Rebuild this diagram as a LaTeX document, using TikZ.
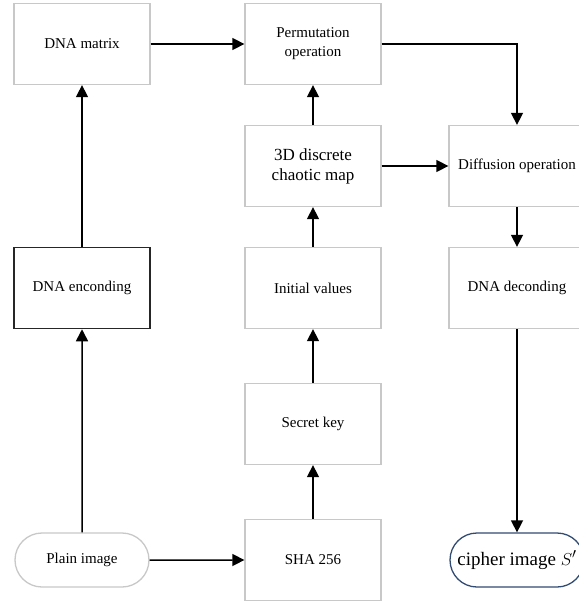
\documentclass[tikz,border=0pt]{standalone}
\usepackage{fontspec}
\setmainfont{Liberation Serif}
\usetikzlibrary{arrows.meta,shapes.misc}
\definecolor{boxgray}{RGB}{200,200,200}
\definecolor{pillblue}{RGB}{50,75,115}
\begin{document}
\begin{tikzpicture}[x=1pt,y=-1pt,
  box/.style={draw=boxgray,line width=1.3pt,minimum width=136pt,minimum height=81pt,align=center,font=\fontsize{15}{19}\selectfont,inner sep=2pt},
  darkbox/.style={box,draw=black!85,line width=1.5pt},
  pill/.style={rounded rectangle,draw=boxgray,line width=1.3pt,minimum width=136pt,minimum height=54pt,font=\fontsize{15}{19}\selectfont,inner xsep=1pt},
  bluepill/.style={pill,draw=pillblue,font=\fontsize{19}{22}\selectfont},
  arr/.style={line width=1.5pt,-{Triangle[length=12pt,width=12pt]}}]
\useasboundingbox (0,0) rectangle (578,604);
\fill[white] (0,0) rectangle (578,604);
\node[box] (dnamatrix) at (82,44) {DNA matrix};
\node[darkbox] (dnaenc) at (82,288) {DNA enconding};
\node[pill] (plain) at (82,560) {Plain image};
\node[box] (perm) at (313,44) {Permutation\\operation};
\node[box,font=\fontsize{17}{20}\selectfont] (chaotic) at (313,166) {3D discrete\\chaotic map};
\node[box] (init) at (313,288) {Initial values};
\node[box] (secret) at (313,424) {Secret key};
\node[box] (sha) at (313,560) {SHA 256};
\node[box] (diff) at (517,166) {Diffusion operation};
\node[box] (decod) at (517,288) {DNA deconding};
\node[bluepill] (cipher) at (517,560) {cipher image $S'$};
\draw[arr] (plain) -- (sha);
\draw[arr] (plain) -- (dnaenc);
\draw[arr] (dnaenc) -- (dnamatrix);
\draw[arr] (dnamatrix) -- (perm);
\draw[arr] (sha) -- (secret);
\draw[arr] (secret) -- (init);
\draw[arr] (init) -- (chaotic);
\draw[arr] (chaotic) -- (perm);
\draw[arr] (chaotic) -- (diff);
\draw[arr] (perm.east) -| (diff.north);
\draw[arr] (diff) -- (decod);
\draw[arr] (decod) -- (cipher);
\end{tikzpicture}
\end{document}
